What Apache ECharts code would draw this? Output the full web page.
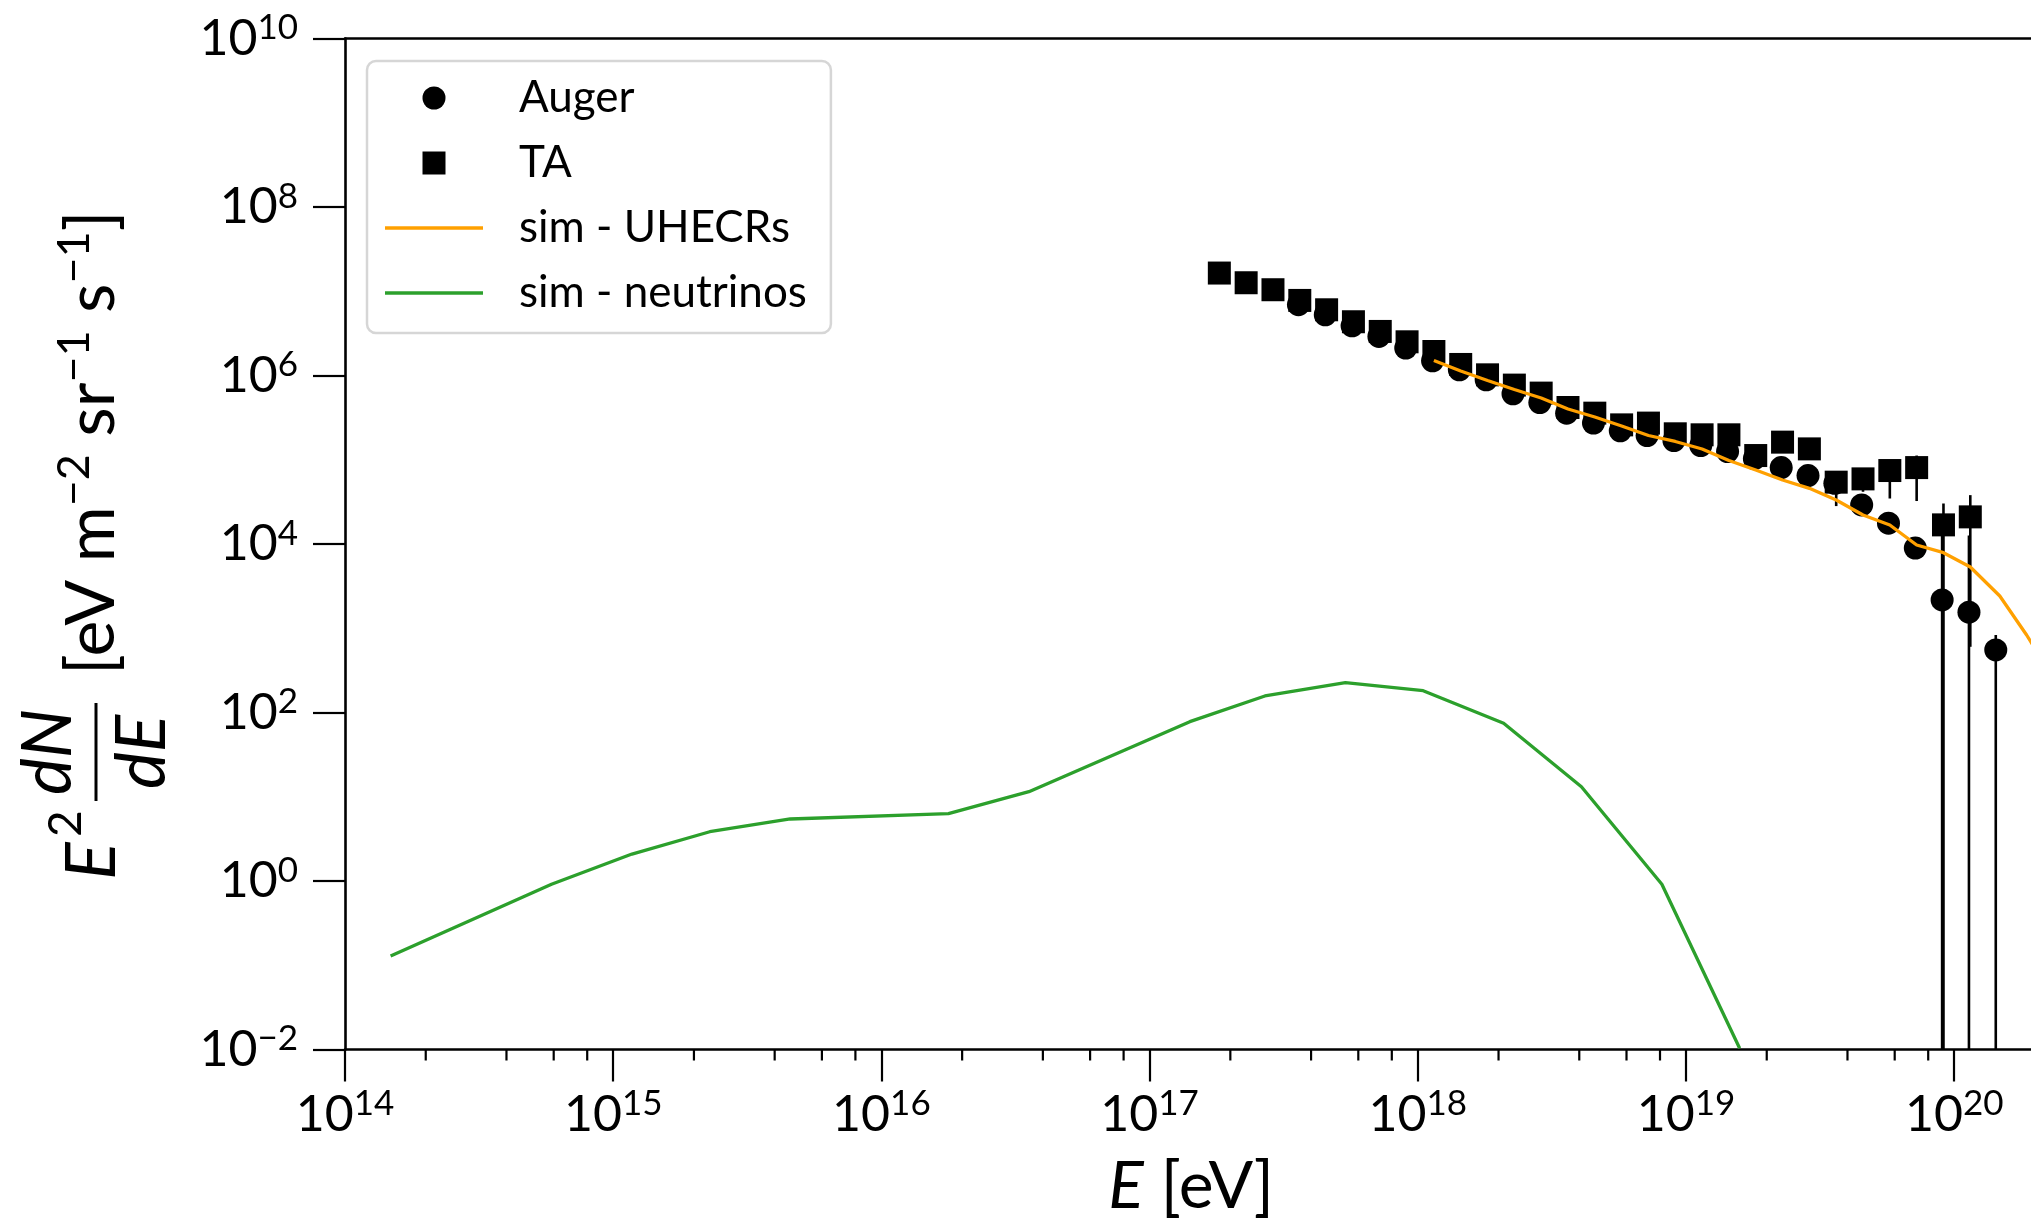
<!DOCTYPE html>
<html>
<head>
<meta charset="utf-8">
<script src="https://cdn.jsdelivr.net/npm/echarts@6/dist/echarts.min.js"></script>
<style>
html,body{margin:0;padding:0;background:#fff;}
#c{width:2031px;height:1223px;}
</style>
</head>
<body>
<div id="c"></div>
<script>
// ---------------- data (log10 of E in eV, log10 of E^2 dN/dE) ----------------
const augerLogE = [17.555,17.655,17.755,17.855,17.955,18.055,18.155,18.255,18.355,18.455,18.555,18.655,18.755,18.855,18.955,19.055,19.155,19.255,19.355,19.455,19.555,19.655,19.755,19.855,19.955,20.055,20.155];
const augerLogFlux = [6.840,6.721,6.590,6.463,6.325,6.175,6.068,5.949,5.783,5.679,5.553,5.435,5.343,5.287,5.228,5.169,5.098,5.012,4.907,4.812,4.720,4.464,4.247,3.952,3.336,3.190,2.742];
const augerErrLogE = [19.955,20.055,20.155];
const augerErrLow  = [-6,-6,-6];
const augerErrHigh = [4.30,4.10,2.92];

const taLogE = [17.26,17.36,17.46,17.56,17.66,17.76,17.86,17.96,18.06,18.16,18.26,18.36,18.46,18.56,18.66,18.76,18.86,18.96,19.06,19.16,19.26,19.36,19.46,19.56,19.66,19.76,19.86,19.96,20.06];
const taLogFlux = [7.216,7.101,7.018,6.891,6.780,6.638,6.523,6.400,6.285,6.131,6.008,5.886,5.791,5.620,5.553,5.414,5.435,5.308,5.296,5.296,5.050,5.209,5.129,4.734,4.773,4.872,4.907,4.227,4.322];
const taErrLogE = [19.56,19.66,19.76,19.86,19.96,20.06];
const taErrLow  = [4.45,4.62,4.54,4.51,-6,2.78];
const taErrHigh = [4.80,4.85,4.95,5.05,4.48,4.58];

const simCrLogE = [18.06,18.16,18.26,18.36,18.46,18.56,18.66,18.76,18.86,18.96,19.06,19.16,19.26,19.36,19.46,19.56,19.66,19.76,19.86,19.96,20.06,20.17,20.27,20.36];
const simCrLogFlux = [6.178,6.053,5.941,5.834,5.733,5.602,5.507,5.401,5.288,5.217,5.128,4.991,4.878,4.760,4.661,4.522,4.344,4.225,3.988,3.897,3.727,3.383,2.920,2.45];

const simNuLogE = [14.17,14.77,15.07,15.36,15.66,16.25,16.55,17.15,17.43,17.73,18.02,18.32,18.61,18.91,19.20];
const simNuLogFlux = [-0.890,-0.039,0.320,0.585,0.736,0.799,1.060,1.891,2.196,2.354,2.259,1.872,1.119,-0.039,-1.986];

const xTickExps = [14,15,16,17,18,19,20];
const yTickExps = [-2,0,2,4,6,8,10];
const minorSubs = [2,4,6,8];

// ---------------- chart ----------------
const FONT = 'Lato';
const X_MIN = 14, X_MAX = 20.31, Y_MIN = -2, Y_MAX = 10;
const PX_PER_DECADE = 268.2;

const minorTicks = [];
xTickExps.forEach(n => minorSubs.forEach(k => { const v = n + Math.log10(k); if (v < X_MAX) minorTicks.push([v]); }));

const tickRich = {
  b: {fontFamily: FONT, fontSize: 50, lineHeight: 56, color: '#000'},
  s: {fontFamily: FONT, fontSize: 35, lineHeight: 26, verticalAlign: 'top', color: '#000'}
};
function expLabel(list) {
  return function (v) {
    const n = Math.round(v);
    if (Math.abs(v - n) > 1e-6 || list.indexOf(n) < 0) return '';
    return '{b|10}{s|' + (n < 0 ? '\u2212' + (-n) : n) + '}';
  };
}

function errRender(params, api) {
  const cs = params.coordSys;
  const lo = api.coord([api.value(0), api.value(1)]);
  const hi = api.coord([api.value(0), api.value(2)]);
  const yBottom = Math.min(lo[1], cs.y + cs.height);
  return {type: 'line', shape: {x1: lo[0], y1: yBottom, x2: lo[0], y2: hi[1]},
          style: {stroke: '#000', lineWidth: 2.6}};
}

const ICON_SQUARE = 'path://M0,0L10,0L10,10L0,10Z';
const ICON_LINE = 'path://M0,0L98,0L98,3.4L0,3.4Z';

const chart = echarts.init(document.getElementById('c'), null, {renderer: 'canvas', width: 2031, height: 1223});

const option = {
  animation: false,
  backgroundColor: '#fff',
  grid: {left: 345, top: 38.5, width: (X_MAX - X_MIN) * PX_PER_DECADE, height: 1011,
         containLabel: false, outerBoundsMode: 'none'},
  xAxis: [{
    type: 'value', min: X_MIN, max: X_MAX, interval: 1, position: 'bottom',
    axisLine: {show: true, onZero: false, lineStyle: {color: '#000', width: 2.6}},
    axisTick: {show: true, inside: false, length: 32, lineStyle: {color: '#000', width: 2.2}},
    axisLabel: {formatter: expLabel(xTickExps), margin: 37, rich: tickRich, showMaxLabel: false},
    splitLine: {show: false},
    name: '{i|E} [eV]', nameLocation: 'middle', nameGap: 104,
    nameTextStyle: {fontFamily: FONT, fontSize: 66, color: '#000',
      rich: {i: {fontFamily: FONT, fontSize: 66, fontStyle: 'italic', color: '#000'}}}
  }, {
    type: 'value', min: X_MIN, max: X_MAX, position: 'top',
    axisLine: {show: true, onZero: false, lineStyle: {color: '#000', width: 2.6}},
    axisTick: {show: false}, axisLabel: {show: false}, splitLine: {show: false}
  }],
  yAxis: [{
    type: 'value', min: Y_MIN, max: Y_MAX, interval: 2,
    axisLine: {show: true, onZero: false, lineStyle: {color: '#000', width: 2.6}},
    axisTick: {show: true, inside: false, length: 32, lineStyle: {color: '#000', width: 2.2}},
    axisLabel: {formatter: expLabel(yTickExps), margin: 47, rich: tickRich},
    splitLine: {show: false}
  }],
  legend: {
    data: [
      {name: 'Auger', icon: 'circle'},
      {name: 'TA', icon: ICON_SQUARE},
      {name: 'sim - UHECRs', icon: ICON_LINE},
      {name: 'sim - neutrinos', icon: ICON_LINE}
    ],
    orient: 'vertical', left: 367, top: 61,
    itemWidth: 98, itemHeight: 23, itemGap: 21,
    symbolKeepAspect: true,
    padding: [15, 24, 18, 18],
    backgroundColor: '#fff', borderColor: '#d6d6d6', borderWidth: 2.5, borderRadius: 9,
    textStyle: {fontFamily: FONT, fontSize: 44, color: '#000', padding: [0, 0, 0, 31]},
    selectedMode: false
  },
  series: [
    {
      type: 'custom', name: 'minor ticks', silent: true, z: 1,
      renderItem: function (params, api) {
        const p = api.coord([api.value(0), Y_MIN]);
        return {type: 'line', shape: {x1: p[0], y1: p[1], x2: p[0], y2: p[1] + 11},
                style: {stroke: '#000', lineWidth: 2.2}};
      },
      encode: {x: 0},
      data: minorTicks
    },
    {
      type: 'custom', name: 'Auger err', silent: true, z: 2, renderItem: errRender,
      encode: {x: 0, y: [1, 2]},
      data: augerErrLogE.map((e, i) => [e, augerErrLow[i], augerErrHigh[i]])
    },
    {
      type: 'custom', name: 'TA err', silent: true, z: 2, renderItem: errRender,
      encode: {x: 0, y: [1, 2]},
      data: taErrLogE.map((e, i) => [e, taErrLow[i], taErrHigh[i]])
    },
    {
      type: 'scatter', name: 'Auger', symbol: 'circle', symbolSize: 23, z: 3, silent: true,
      itemStyle: {color: '#000', opacity: 1},
      data: augerLogE.map((e, i) => [e, augerLogFlux[i]])
    },
    {
      type: 'scatter', name: 'TA', symbol: 'rect', symbolSize: 23, z: 4, silent: true,
      itemStyle: {color: '#000', opacity: 1},
      data: taLogE.map((e, i) => [e, taLogFlux[i]])
    },
    {
      type: 'line', name: 'sim - UHECRs', symbol: 'none', showSymbol: false, z: 5, clip: true, silent: true,
      lineStyle: {color: '#ffa000', width: 3.3}, itemStyle: {color: '#ffa000'},
      data: simCrLogE.map((e, i) => [e, simCrLogFlux[i]])
    },
    {
      type: 'line', name: 'sim - neutrinos', symbol: 'none', showSymbol: false, z: 5, clip: true, silent: true,
      lineStyle: {color: '#2ca02c', width: 3.3}, itemStyle: {color: '#2ca02c'},
      data: simNuLogE.map((e, i) => [e, simNuLogFlux[i]])
    }
  ],
  graphic: [{
    type: 'group', x: 92, y: 545, rotation: Math.PI / 2, silent: true,
    children: [
      {type: 'text', x: -335, y: 0, style: {text: 'E', fontFamily: FONT, fontSize: 70, fontStyle: 'italic', fill: '#000',
        align: 'left', verticalAlign: 'middle', textAlign: 'left', textVerticalAlign: 'middle'}},
      {type: 'text', x: -292, y: -26, style: {text: '2', fontFamily: FONT, fontSize: 46, fill: '#000',
        align: 'left', verticalAlign: 'middle', textAlign: 'left', textVerticalAlign: 'middle'}},
      {type: 'text', x: -207, y: -44, style: {text: 'dN', fontFamily: FONT, fontSize: 70, fontStyle: 'italic', fill: '#000',
        align: 'center', verticalAlign: 'middle', textAlign: 'center', textVerticalAlign: 'middle'}},
      {type: 'line', shape: {x1: -256, y1: 4, x2: -158, y2: 4}, style: {stroke: '#000', lineWidth: 3}},
      {type: 'text', x: -207, y: 50, style: {text: 'dE', fontFamily: FONT, fontSize: 70, fontStyle: 'italic', fill: '#000',
        align: 'center', verticalAlign: 'middle', textAlign: 'center', textVerticalAlign: 'middle'}},
      {type: 'text', x: -130, y: 0, style: {
        text: '[eV m{s|\u22122} sr{s|\u22121} s{s|\u22121}]',
        fontFamily: FONT, fontSize: 68, lineHeight: 80, fill: '#000',
        align: 'left', verticalAlign: 'middle', textAlign: 'left', textVerticalAlign: 'middle',
        rich: {s: {fontFamily: FONT, fontSize: 45, lineHeight: 34, verticalAlign: 'top', fill: '#000', color: '#000'}}
      }}
    ]
  }]
};
chart.setOption(option);
</script>
</body>
</html>
